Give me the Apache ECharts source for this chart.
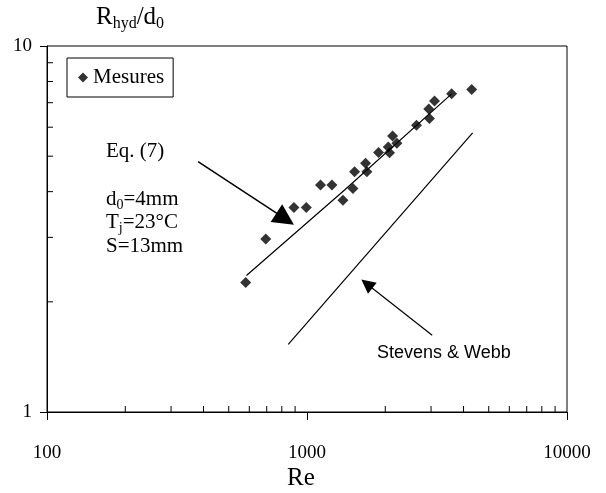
<!DOCTYPE html>
<html><head><meta charset="utf-8">
<script src="https://cdn.jsdelivr.net/npm/echarts@6/dist/echarts.min.js"></script>
<style>html,body{margin:0;padding:0;background:#fff}#c{width:606px;height:493px}</style>
</head><body><div id="c"></div>
<script>
// ---- data ----
const reMesures = [581, 694, 891, 994, 1127, 1247, 1375, 1502, 1524, 1680, 1699, 1885, 2054, 2077, 2133, 2216, 2637, 2940, 2958, 3093, 3600, 4300];
const rMesures  = [2.26, 2.97, 3.62, 3.62, 4.17, 4.17, 3.79, 4.08, 4.53, 4.78, 4.53, 5.12, 5.30, 5.11, 5.68, 5.42, 6.07, 6.73, 6.34, 7.08, 7.4, 7.6];
const reEq7 = [585, 1395, 3600];
const rEq7  = [2.36, 4.04, 7.4];
const reStevens = [847, 4335];
const rStevens  = [1.53, 5.79];
const xTickLabels = ['100', '1000', '10000'];
const yTickLabels = ['1', '10'];
const xMinorTicks = [200, 300, 400, 500, 600, 700, 800, 900, 2000, 3000, 4000, 5000, 6000, 7000, 8000, 9000];
const yMinorTicks = [2, 3, 4, 5, 6, 7, 8, 9];
const arrowEq = [[381, 4.83], [891, 3.25]];
const arrowStevens = [[3030, 1.62], [1618, 2.30]];

const serif = "'Liberation Serif','Times New Roman',serif";
const sans = "'Liberation Sans',Arial,sans-serif";

const chart = echarts.init(document.getElementById('c'), null, {renderer: 'canvas'});

const zip = (a, b) => a.map((v, i) => [v, b[i]]);

const option = {
  animation: false,
  backgroundColor: '#fff',
  grid: {left: 47, right: 39, top: 46, bottom: 81, show: true, borderColor: '#000', borderWidth: 1, backgroundColor: 'transparent'},
  legend: {
    data: [{name: 'Mesures', icon: 'diamond'}],
    left: 67, top: 58, orient: 'vertical',
    itemWidth: 10, itemHeight: 10,
    padding: [9, 9, 9, 11],
    borderColor: '#000', borderWidth: 1,
    textStyle: {fontFamily: serif, fontSize: 21, color: '#000'},
    selectedMode: false
  },
  xAxis: {
    type: 'log', logBase: 10, min: 100, max: 10000,
    axisLine: {lineStyle: {color: '#000', width: 1}},
    axisTick: {show: true, length: 8, lineStyle: {color: '#000'}},
    splitLine: {show: false},
    axisLabel: {
      margin: 32, color: '#000', fontFamily: serif, fontSize: 19,
      formatter: v => { const s = String(Math.round(v)); return xTickLabels.includes(s) ? s : ''; }
    }
  },
  yAxis: {
    type: 'log', logBase: 10, min: 1, max: 10,
    axisLine: {show: true, lineStyle: {color: '#000', width: 1}},
    axisTick: {show: true, length: 7, lineStyle: {color: '#000'}},
    splitLine: {show: false},
    axisLabel: {
      margin: 15, color: '#000', fontFamily: serif, fontSize: 19,
      formatter: v => { const s = String(Math.round(v)); return yTickLabels.includes(s) ? s : ''; }
    }
  },
  series: [
    {name: 'Eq. (7)', type: 'line', data: zip(reEq7, rEq7), symbol: 'none', lineStyle: {color: '#000', width: 1.2}, z: 3},
    {name: 'Stevens & Webb', type: 'line', data: zip(reStevens, rStevens), symbol: 'none', lineStyle: {color: '#000', width: 1.2}, z: 3},
    {name: 'Mesures', type: 'scatter', data: zip(reMesures, rMesures), symbol: 'diamond', symbolSize: 11, itemStyle: {color: '#000'}, z: 4},
    {
      name: 'xminor', type: 'custom', silent: true, clip: false, z: 5,
      data: xMinorTicks.map(v => [v, 1]),
      renderItem: (params, api) => {
        const p = api.coord([api.value(0), api.value(1)]);
        return {type: 'line', shape: {x1: p[0], y1: p[1], x2: p[0], y2: p[1] - 6}, style: {stroke: '#000', lineWidth: 1}};
      }
    },
    {
      name: 'yminor', type: 'custom', silent: true, clip: false, z: 5,
      data: yMinorTicks.map(v => [100, v]),
      renderItem: (params, api) => {
        const p = api.coord([api.value(0), api.value(1)]);
        return {type: 'line', shape: {x1: p[0], y1: p[1], x2: p[0] + 6, y2: p[1]}, style: {stroke: '#000', lineWidth: 1}};
      }
    }
  ]
};
chart.setOption(option);

function arrow(a, L, W, lw) {
  const p0 = chart.convertToPixel({gridIndex: 0}, a[0]);
  const p1 = chart.convertToPixel({gridIndex: 0}, a[1]);
  const dx = p1[0] - p0[0], dy = p1[1] - p0[1], len = Math.hypot(dx, dy);
  const ux = dx / len, uy = dy / len;
  const bx = p1[0] - ux * L, by = p1[1] - uy * L;
  return [
    {type: 'line', z: 10, shape: {x1: p0[0], y1: p0[1], x2: bx + ux * 2, y2: by + uy * 2}, style: {stroke: '#000', lineWidth: lw}},
    {type: 'polygon', z: 10, shape: {points: [[p1[0], p1[1]], [bx - uy * W, by + ux * W], [bx + uy * W, by - ux * W]]}, style: {fill: '#000'}}
  ];
}

const rich = (size) => ({
  m: {fontFamily: serif, fontSize: size, lineHeight: size, verticalAlign: 'top', fill: '#000'},
  s: {fontFamily: serif, fontSize: Math.round(size * 0.65), lineHeight: Math.round(size * 0.65), padding: [Math.round(size * 0.45), 0, 0, 0], verticalAlign: 'top', fill: '#000'}
});

const graphics = [
  {type: 'text', z: 10, left: 96, top: 5, style: {text: '{m|R}{s|hyd}{m|/d}{s|0}', rich: rich(25), fill: '#000'}},
  {type: 'text', z: 10, x: 301, y: 478, style: {text: 'Re', fontFamily: serif, fontSize: 25, fill: '#000', align: 'center', verticalAlign: 'middle'}},
  {type: 'text', z: 10, x: 106, y: 151, style: {text: 'Eq. (7)', fontFamily: serif, fontSize: 21, fill: '#000', align: 'left', verticalAlign: 'middle'}},
  {type: 'text', z: 10, left: 106, top: 189, style: {text: '{m|d}{s|0}{m|=4mm}', rich: rich(21), fill: '#000'}},
  {type: 'text', z: 10, left: 106, top: 212, style: {text: '{m|T}{s|j}{m|=23°C}', rich: rich(21), fill: '#000'}},
  {type: 'text', z: 10, x: 106, y: 246, style: {text: 'S=13mm', fontFamily: serif, fontSize: 21, fill: '#000', align: 'left', verticalAlign: 'middle'}},
  {type: 'text', z: 10, x: 377, y: 353, style: {text: 'Stevens & Webb', fontFamily: sans, fontSize: 18, fill: '#000', align: 'left', verticalAlign: 'middle'}}
].concat(arrow(arrowEq, 21, 10.5, 1.5), arrow(arrowStevens, 14, 7, 1.2));

chart.setOption({graphic: graphics});
</script>
</body></html>
